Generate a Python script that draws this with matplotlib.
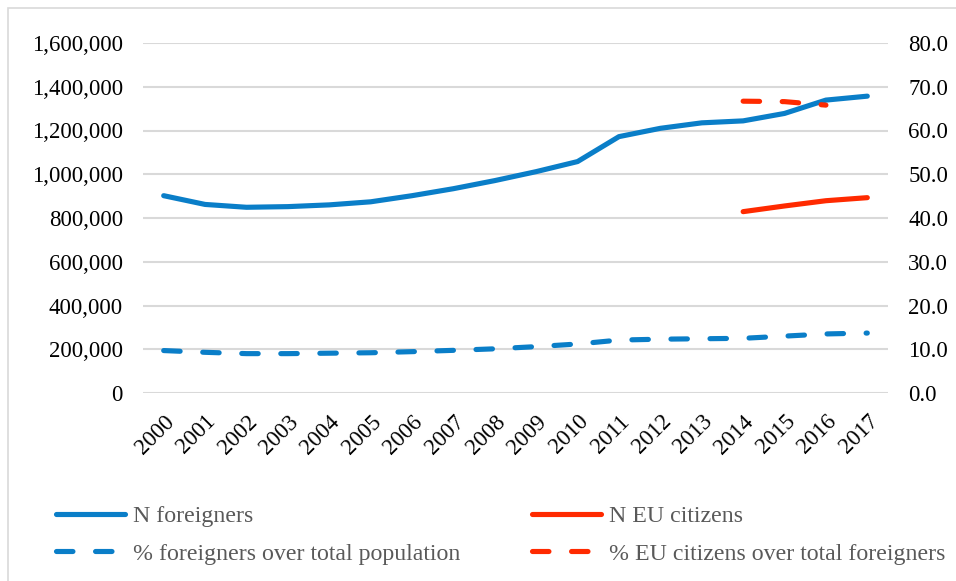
import matplotlib
matplotlib.use("Agg")
import matplotlib.pyplot as plt
from matplotlib.ticker import FuncFormatter, FixedLocator
from matplotlib.patches import Rectangle

years = [str(y) for y in range(2000, 2018)]
n_foreigners = [902000, 862000, 849000, 852000, 860000, 874000, 902000, 934000, 971000,
                1012000, 1058000, 1172000, 1210000, 1235000, 1244000, 1278000, 1339000, 1357000]
pct_foreigners = [9.7, 9.3, 9.0, 9.0, 9.1, 9.2, 9.45, 9.75, 10.1, 10.6, 11.2, 12.1, 12.3,
                  12.4, 12.5, 13.0, 13.5, 13.7]
eu_years = ["2014", "2015", "2016", "2017"]
n_eu = [829000, 855000, 879000, 893000]
pct_eu_years = ["2014", "2015", "2016"]
pct_eu = [66.7, 66.6, 65.8]

left_ticks = [0, 200000, 400000, 600000, 800000, 1000000, 1200000, 1400000, 1600000]
right_ticks = [0, 10, 20, 30, 40, 50, 60, 70, 80]

BLUE = "#0A7EC8"
RED = "#FF2A00"
GRID = "#D9D9D9"
FONT = "Liberation Serif"
FS = 16.5
LFS = 17.2

plt.rcParams["font.family"] = [FONT, "DejaVu Serif"]

W, H = 956, 581
fig = plt.figure(figsize=(W / 100, H / 100), dpi=100)
ax = fig.add_axes([143 / W, 1 - 393 / H, (888 - 143) / W, (393 - 43) / H])
ax2 = ax.twinx()

idx = {y: i for i, y in enumerate(years)}
x_all = [idx[y] for y in years]
lw = 3.7

l1, = ax.plot(x_all, n_foreigners, color=BLUE, lw=lw, solid_capstyle="round",
              solid_joinstyle="round", label="N foreigners", zorder=3)
l3, = ax.plot([idx[y] for y in eu_years], n_eu, color=RED, lw=lw, solid_capstyle="round",
              label="N EU citizens", zorder=3)
l2, = ax2.plot(x_all, pct_foreigners, color=BLUE, lw=lw, dashes=(3.2, 4.4),
               dash_capstyle="round", label="% foreigners over total population", zorder=3)
l4, = ax2.plot([idx[y] for y in pct_eu_years], pct_eu, color=RED, lw=lw, dashes=(3.2, 4.4),
               dash_capstyle="round", label="% EU citizens over total foreigners", zorder=3)

ax.set_xlim(-0.5, len(years) - 0.5)
ax.set_ylim(0, 1600000)
ax2.set_ylim(0, 80)
ax.yaxis.set_major_locator(FixedLocator(left_ticks))
ax2.yaxis.set_major_locator(FixedLocator(right_ticks))
ax.yaxis.set_major_formatter(FuncFormatter(lambda v, p: f"{int(v):,}"))
ax2.yaxis.set_major_formatter(FuncFormatter(lambda v, p: f"{v:.1f}"))
ax.grid(axis="y", color=GRID, lw=1.5)
ax.set_axisbelow(True)

ax.set_xticks(x_all)
ax.set_xticklabels(years, rotation=45, ha="right", va="top", rotation_mode="anchor")

for a in (ax, ax2):
    for s in a.spines.values():
        s.set_visible(False)
    a.tick_params(length=0, labelsize=FS, colors="black")
ax.tick_params(axis="y", pad=14.5)
ax2.tick_params(axis="y", pad=14.5)
ax.tick_params(axis="x", pad=13)

leg = fig.legend([l1, l2, l3, l4],
                 [l1.get_label(), l2.get_label(), l3.get_label(), l4.get_label()],
                 ncol=2, loc="upper left", bbox_to_anchor=(46 / W, 1 - 496 / H),
                 frameon=False, fontsize=LFS, handlelength=2.9, handletextpad=0.34,
                 columnspacing=3.0, labelspacing=0.66, borderaxespad=0)
for t in leg.get_texts():
    t.set_color("#595959")

fig.patches.append(Rectangle((8 / W, -0.1), 1.2, 1 - 8 / H + 0.1, transform=fig.transFigure,
                             fill=False, edgecolor=GRID, lw=1.2))

fig.savefig("out.png", dpi=100)
